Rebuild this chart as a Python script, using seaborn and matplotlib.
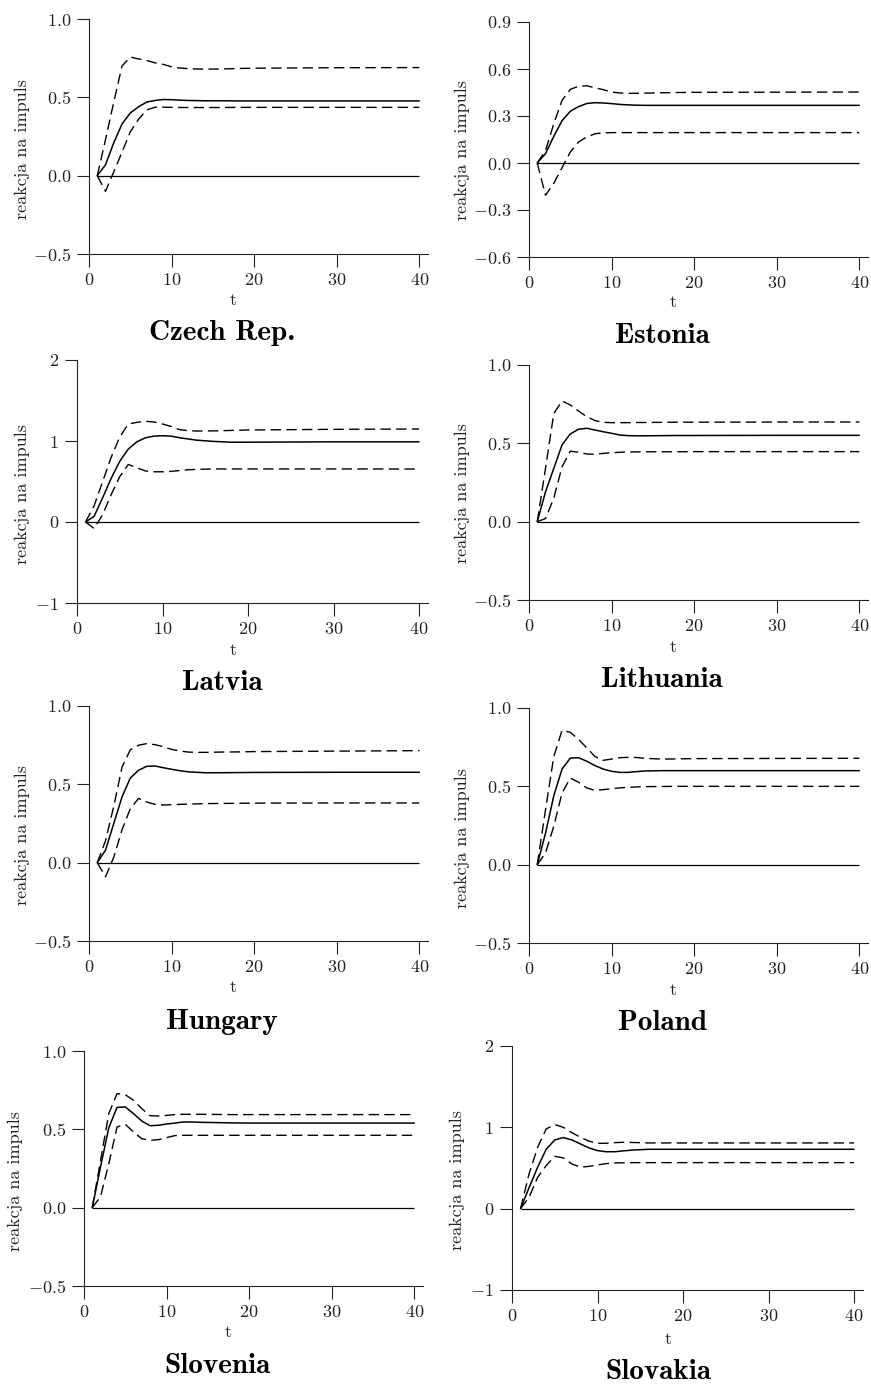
import matplotlib
matplotlib.use('Agg')
import matplotlib.pyplot as plt
import seaborn as sns
import pandas as pd

# horizon (flat tail after t=20)
t = [1, 2, 3, 4, 5, 6, 7, 8, 9, 10, 11, 12, 13, 14, 16, 18, 20, 30, 40]

countries = ['Czech Rep.', 'Estonia', 'Latvia', 'Lithuania',
             'Hungary', 'Poland', 'Slovenia', 'Slovakia']

cz_mid = [0, 0.07, 0.21, 0.33, 0.40, 0.44, 0.47, 0.48, 0.486, 0.485, 0.482, 0.48, 0.479, 0.478, 0.478, 0.477, 0.477, 0.477, 0.477]
cz_up = [0, 0.23, 0.47, 0.70, 0.757, 0.745, 0.735, 0.72, 0.71, 0.695, 0.687, 0.683, 0.681, 0.68, 0.681, 0.684, 0.686, 0.689, 0.69]
cz_lo = [0, -0.10, 0.025, 0.15, 0.28, 0.36, 0.42, 0.437, 0.437, 0.436, 0.435, 0.435, 0.435, 0.435, 0.435, 0.436, 0.436, 0.436, 0.436]

ee_mid = [0, 0.06, 0.17, 0.27, 0.33, 0.36, 0.38, 0.385, 0.383, 0.379, 0.374, 0.371, 0.369, 0.368, 0.368, 0.368, 0.368, 0.368, 0.368]
ee_up = [0, 0.08, 0.25, 0.40, 0.47, 0.49, 0.493, 0.48, 0.468, 0.453, 0.447, 0.445, 0.445, 0.446, 0.448, 0.45, 0.451, 0.452, 0.453]
ee_lo = [0, -0.206, -0.13, -0.03, 0.07, 0.134, 0.166, 0.187, 0.192, 0.194, 0.194, 0.194, 0.194, 0.194, 0.194, 0.194, 0.194, 0.194, 0.194]

lv_mid = [0, 0.07, 0.30, 0.54, 0.75, 0.90, 0.99, 1.04, 1.06, 1.065, 1.06, 1.04, 1.025, 1.01, 0.995, 0.985, 0.985, 0.99, 0.99]
lv_up = [0, 0.20, 0.50, 0.80, 1.05, 1.21, 1.23, 1.243, 1.235, 1.21, 1.18, 1.14, 1.128, 1.123, 1.125, 1.13, 1.136, 1.144, 1.148]
lv_lo = [0, -0.08, 0.09, 0.34, 0.56, 0.71, 0.67, 0.63, 0.62, 0.62, 0.625, 0.635, 0.645, 0.65, 0.655, 0.655, 0.655, 0.655, 0.654]

lt_mid = [0, 0.19, 0.34, 0.49, 0.56, 0.59, 0.596, 0.585, 0.574, 0.564, 0.553, 0.549, 0.548, 0.548, 0.549, 0.55, 0.55, 0.551, 0.551]
lt_up = [0, 0.34, 0.69, 0.77, 0.745, 0.706, 0.67, 0.645, 0.634, 0.632, 0.632, 0.632, 0.633, 0.633, 0.634, 0.635, 0.635, 0.636, 0.636]
lt_lo = [0, 0.02, 0.15, 0.35, 0.45, 0.443, 0.432, 0.43, 0.436, 0.44, 0.443, 0.445, 0.445, 0.446, 0.446, 0.446, 0.447, 0.447, 0.447]

hu_mid = [0, 0.08, 0.25, 0.42, 0.54, 0.59, 0.615, 0.617, 0.606, 0.596, 0.587, 0.58, 0.577, 0.574, 0.574, 0.575, 0.576, 0.577, 0.577]
hu_up = [0, 0.14, 0.36, 0.61, 0.72, 0.75, 0.76, 0.753, 0.74, 0.723, 0.713, 0.706, 0.704, 0.704, 0.706, 0.707, 0.709, 0.712, 0.715]
hu_lo = [0, -0.09, 0.035, 0.21, 0.345, 0.41, 0.387, 0.372, 0.368, 0.37, 0.372, 0.374, 0.375, 0.377, 0.378, 0.379, 0.38, 0.381, 0.381]

pl_mid = [0, 0.20, 0.44, 0.61, 0.68, 0.683, 0.66, 0.632, 0.61, 0.596, 0.589, 0.589, 0.594, 0.598, 0.6, 0.6, 0.6, 0.6, 0.6]
pl_up = [0, 0.35, 0.69, 0.857, 0.845, 0.80, 0.745, 0.69, 0.666, 0.674, 0.683, 0.685, 0.684, 0.679, 0.674, 0.675, 0.677, 0.678, 0.679]
pl_lo = [0, 0.075, 0.245, 0.457, 0.553, 0.526, 0.49, 0.474, 0.479, 0.485, 0.49, 0.494, 0.496, 0.498, 0.499, 0.5, 0.5, 0.5, 0.5]

si_mid = [0, 0.26, 0.51, 0.64, 0.643, 0.60, 0.553, 0.523, 0.526, 0.534, 0.54, 0.547, 0.547, 0.545, 0.543, 0.541, 0.54, 0.54, 0.54]
si_up = [0, 0.30, 0.60, 0.728, 0.721, 0.685, 0.632, 0.587, 0.585, 0.589, 0.594, 0.596, 0.596, 0.596, 0.595, 0.594, 0.594, 0.594, 0.594]
si_lo = [0, 0.07, 0.28, 0.515, 0.532, 0.483, 0.44, 0.43, 0.434, 0.447, 0.46, 0.462, 0.462, 0.462, 0.462, 0.462, 0.462, 0.462, 0.462]

sk_mid = [0, 0.26, 0.51, 0.73, 0.845, 0.874, 0.845, 0.796, 0.747, 0.714, 0.70, 0.70, 0.71, 0.72, 0.73, 0.73, 0.73, 0.73, 0.73]
sk_up = [0, 0.43, 0.755, 0.98, 1.034, 1.0, 0.935, 0.878, 0.83, 0.804, 0.804, 0.812, 0.816, 0.814, 0.808, 0.808, 0.808, 0.808, 0.808]
sk_lo = [0, 0.14, 0.386, 0.53, 0.644, 0.624, 0.55, 0.51, 0.52, 0.537, 0.554, 0.562, 0.564, 0.566, 0.566, 0.566, 0.566, 0.566, 0.566]

mids = [cz_mid, ee_mid, lv_mid, lt_mid, hu_mid, pl_mid, si_mid, sk_mid]
ups = [cz_up, ee_up, lv_up, lt_up, hu_up, pl_up, si_up, sk_up]
los = [cz_lo, ee_lo, lv_lo, lt_lo, hu_lo, pl_lo, si_lo, sk_lo]

yticks_half = [-0.5, 0.0, 0.5, 1.0]
yticks_est = [-0.6, -0.3, 0.0, 0.3, 0.6, 0.9]
yticks_int = [-1, 0, 1, 2]
yticks = [yticks_half, yticks_est, yticks_int, yticks_half,
          yticks_half, yticks_half, yticks_half, yticks_int]
xticks = [0, 10, 20, 30, 40]

# layout in pixels: axes (left, right, top, bottom), t-label (x, y),
# title (x, y), y-label (x, y)
W, H = 871, 1384
layout = [
    ((89, 428, 19, 254), (233, 300), (222, 333), (22, 149)),
    ((529, 868, 22, 257), (673, 302), (662, 336), (462, 150)),
    ((77, 428, 360, 603), (233, 650), (222, 683), (22, 494)),
    ((529, 868, 365, 600), (673, 647), (662, 680), (462, 493)),
    ((89, 428, 706, 941), (233, 987), (222, 1022), (22, 835)),
    ((529, 868, 708, 943), (673, 990), (662, 1023), (462, 838)),
    ((84, 423, 1051, 1286), (228, 1332), (217, 1366), (15, 1181)),
    ((512, 863, 1046, 1290), (668, 1339), (658, 1372), (457, 1180)),
]

sns.set_style('ticks')
plt.rcParams['font.family'] = ['cmr10', 'DejaVu Serif']
plt.rcParams['mathtext.fontset'] = 'cm'
plt.rcParams['axes.formatter.use_mathtext'] = True
plt.rcParams['axes.unicode_minus'] = True

fs = 13
fig = plt.figure(figsize=(W / 100, H / 100), dpi=100)

for i, name in enumerate(countries):
    (l, r, top, bot), tlab, ttl, ylab = layout[i]
    ax = fig.add_axes([l / W, 1 - bot / H, (r - l) / W, (bot - top) / H])
    df = pd.DataFrame({'t': t, 'mid': mids[i], 'up': ups[i], 'lo': los[i]})
    ax.hlines(0, t[0], t[-1], color='black', lw=0.9)
    sns.lineplot(data=df, x='t', y='mid', ax=ax, color='black', lw=1.1)
    sns.lineplot(data=df, x='t', y='up', ax=ax, color='black', lw=1.0,
                 linestyle=(0, (7.5, 3.8)))
    sns.lineplot(data=df, x='t', y='lo', ax=ax, color='black', lw=1.0,
                 linestyle=(0, (7.5, 3.8)))
    ax.set_xlim(0, 41.05)
    ax.set_ylim(yticks[i][0], yticks[i][-1])
    ax.set_xticks(xticks)
    ax.set_yticks(yticks[i])
    ax.tick_params(direction='out', length=9, width=0.8, labelsize=fs,
                   pad=4, colors='#222222')
    sns.despine(ax=ax)
    for s in ['left', 'bottom']:
        ax.spines[s].set_linewidth(0.8)
        ax.spines[s].set_color('#222222')
    ax.set_xlabel('')
    ax.set_ylabel('')
    fig.text(tlab[0] / W, 1 - tlab[1] / H, 't', ha='center', va='center',
             fontsize=fs, color='#222222')
    fig.text(ylab[0] / W, 1 - ylab[1] / H, 'reakcja na impuls', rotation=90,
             ha='center', va='center', fontsize=fs, color='#222222')
    fig.text(ttl[0] / W, 1 - ttl[1] / H, name, ha='center', va='center',
             fontsize=21, family=['cmb10', 'DejaVu Serif'], color='black')

fig.savefig('out.png', dpi=100)
